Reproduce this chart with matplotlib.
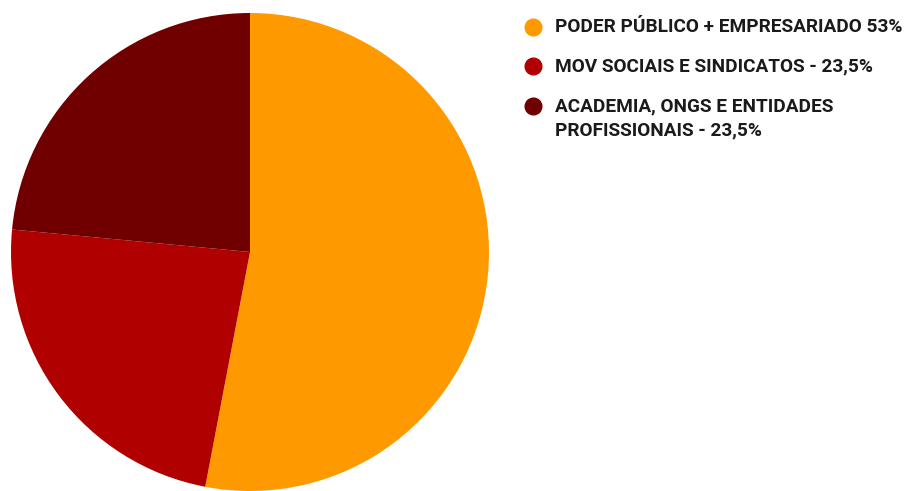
import matplotlib
matplotlib.use('Agg')
import matplotlib.pyplot as plt

labels = ['PODER PÚBLICO + EMPRESARIADO 53%',
          'MOV SOCIAIS E SINDICATOS - 23,5%',
          'ACADEMIA, ONGS E ENTIDADES\nPROFISSIONAIS - 23,5%']
values = [53, 23.5, 23.5]
colors = ['#FF9900', '#B00000', '#700000']

fig = plt.figure(figsize=(9.1, 4.91), dpi=100)
ax = fig.add_axes([0, 0, 1, 1])

ax.pie(values, colors=colors, startangle=90, counterclock=False,
       center=(250, 239), radius=239, frame=True)
ax.set_xlim(0, 910)
ax.set_ylim(0, 491)
ax.axis('off')

# legend
ys = [464, 425, 385]
for lab, col, y in zip(labels, colors, ys):
    ax.plot(533, y, 'o', ms=12, color=col)
    ax.text(555, y + 9 if '\n' in lab else y, lab, fontsize=13.7,
            fontweight='bold', family='Roboto', color='#1a1a1a',
            va='top' if '\n' in lab else 'center', linespacing=1.48)

fig.savefig('out.png', dpi=100)
